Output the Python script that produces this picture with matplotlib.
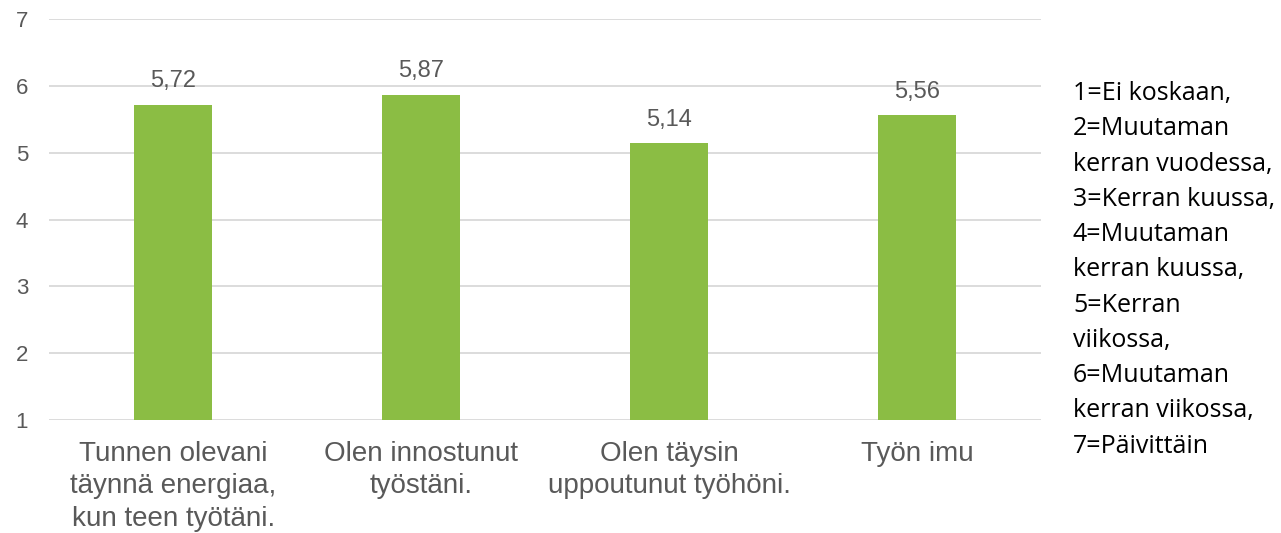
import matplotlib
matplotlib.use('Agg')
import matplotlib.pyplot as plt
import numpy as np

# Data
categories = [
    'Tunnen olevani\ntäynnä energiaa,\nkun teen työtäni.',
    'Olen innostunut\ntyöstäni.',
    'Olen täysin\nuppoutunut työhöni.',
    'Työn imu',
]
values = [5.72, 5.87, 5.14, 5.56]
value_labels = ['5,72', '5,87', '5,14', '5,56']
y_ticks = [1, 2, 3, 4, 5, 6, 7]
scale_note = ('1=Ei koskaan,\n2=Muutaman\nkerran vuodessa,\n3=Kerran kuussa,\n'
              '4=Muutaman\nkerran kuussa,\n5=Kerran\nviikossa,\n6=Muutaman\n'
              'kerran viikossa,\n7=Päivittäin')

BAR = '#8BBD44'
TXT = '#595959'
GRID = '#D9D9D9'

plt.rcParams['font.family'] = ['Liberation Sans', 'DejaVu Sans']

fig = plt.figure(figsize=(12.81, 5.33), dpi=100)
ax = fig.add_axes([0.0383, 0.212, 0.7744, 0.752])

x = np.arange(len(categories))
bottom = 1
ax.bar(x, np.array(values) - bottom, bottom=bottom, width=0.315, color=BAR, zorder=3)

for xi, v, lab in zip(x, values, value_labels):
    ax.annotate(lab, (xi, v), xytext=(0, 9), textcoords='offset points',
                ha='center', va='bottom', fontsize=17, color=TXT)

ax.set_xlim(-0.5, len(categories) - 0.5)
ax.set_ylim(1, 7)
ax.set_yticks(y_ticks)
ax.set_yticklabels([str(t) for t in y_ticks], fontsize=16, color=TXT)
ax.set_xticks(x)
ax.set_xticklabels(categories, fontsize=20, color=TXT, linespacing=1.32)
ax.tick_params(axis='both', length=0)
ax.tick_params(axis='y', pad=15)
ax.tick_params(axis='x', pad=15)
ax.grid(axis='y', color=GRID, linewidth=1.3, zorder=0)
for s in ax.spines.values():
    s.set_visible(False)

fig.text(0.8376, 0.848, scale_note, fontsize=18, color='#000000',
         family=['Open Sans', 'DejaVu Sans'], va='top', ha='left', linespacing=1.54)

fig.savefig('out.png', dpi=100, facecolor='white')
